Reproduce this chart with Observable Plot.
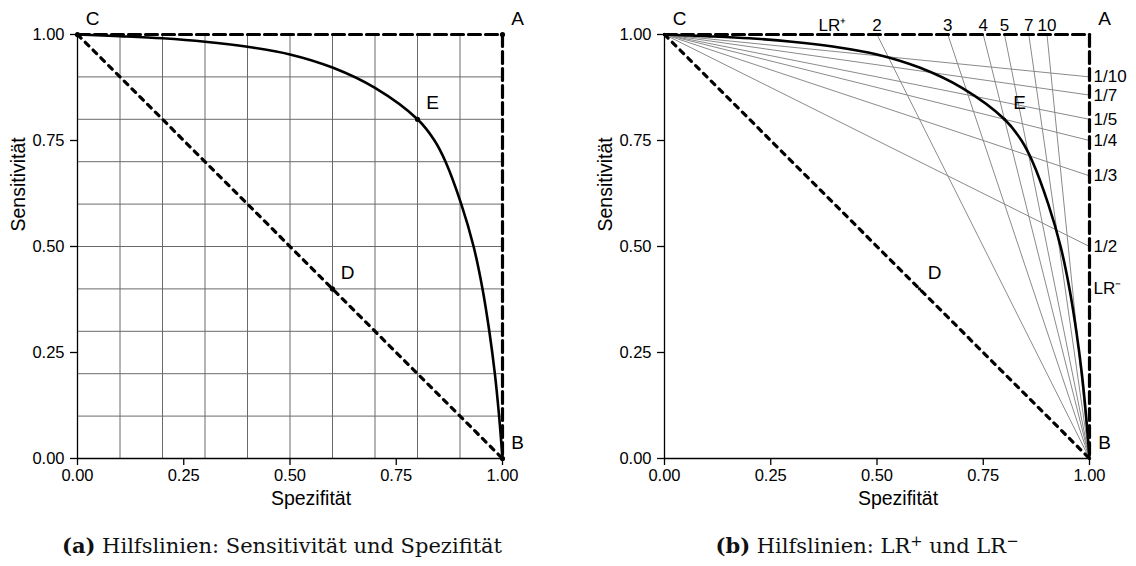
<!DOCTYPE html>
<html>
<head>
<meta charset="utf-8">
<script src="https://cdn.jsdelivr.net/npm/d3@7"></script>
<script src="https://cdn.jsdelivr.net/npm/@observablehq/plot@0.6"></script>
<style>
  html, body { margin: 0; padding: 0; background: #fff; }
  #page { position: relative; width: 1136px; height: 566px; overflow: hidden; background: #fff; }
  .panel { position: absolute; top: 0; }
  .cap { position: absolute; top: 534px; font-family: "DejaVu Serif", "Liberation Serif", serif; font-size: 21px; line-height: 24px; text-align: center; color: #111; white-space: nowrap; }
  .cap sup { font-size: 0.7em; line-height: 0; vertical-align: 0.45em; }
</style>
</head>
<body>
<div id="page">
  <div id="pa" class="panel" style="left:0px"></div>
  <div id="pb" class="panel" style="left:568px"></div>
  <div class="cap" style="left:0px; width:564px;"><b>(a)</b> Hilfslinien: Sensitivität und Spezifität</div>
  <div class="cap" style="left:567px; width:600px;"><b>(b)</b> Hilfslinien: LR<sup>+</sup> und LR<sup>−</sup></div>
</div>
<script>
// ---- data ----
const axisTicks = [0, 0.25, 0.5, 0.75, 1];
const gridValues = [0.1, 0.2, 0.3, 0.4, 0.5, 0.6, 0.7, 0.8, 0.9];

// ROC-like curve (Spezifität, Sensitivität)
const curveSpec = [0, 0.1, 0.2, 0.3, 0.4, 0.5, 0.6, 0.7, 0.8, 0.84, 0.866, 0.903, 0.932, 0.953, 0.969, 0.982, 0.992, 1];
const curveSens = [1, 0.996, 0.991, 0.983, 0.971, 0.953, 0.922, 0.874, 0.8, 0.75, 0.7, 0.6, 0.5, 0.4, 0.3, 0.2, 0.1, 0];

// labelled points
const pointLabels = ["A", "B", "C", "D", "E"];
const pointSpec = [1, 1, 0, 0.6, 0.8];
const pointSens = [1, 0, 1, 0.4, 0.8];

// dashed border C -> A -> B and dotted diagonal C -> B
const borderSpec = [0, 1, 1];
const borderSens = [1, 1, 0];
const diagSpec = [0, 1];
const diagSens = [1, 0];

// likelihood-ratio guide lines
const lrPlusValues = [2, 3, 4, 5, 7, 10];
const lrPlusLabels = ["2", "3", "4", "5", "7", "10"];
const lrMinusValues = [1/10, 1/7, 1/5, 1/4, 1/3, 1/2];
const lrMinusLabels = ["1/10", "1/7", "1/5", "1/4", "1/3", "1/2"];
const lrPlusTitle = "LR⁺";
const lrPlusTitleSpec = 0.395;
const lrMinusTitle = "LR⁻";
const lrMinusTitleSens = 0.4;

// ---- build tables ----
const curve = curveSpec.map((x, i) => ({x, y: curveSens[i]}));
const points = pointLabels.map((t, i) => ({t, x: pointSpec[i], y: pointSens[i]}));
const border = borderSpec.map((x, i) => ({x, y: borderSens[i]}));
const diag = diagSpec.map((x, i) => ({x, y: diagSens[i]}));
// LR+ lines pass through B (1,0): sens = LR+ * (1 - spec)
const lrPlus = lrPlusValues.map((v, i) => ({x1: 1, y1: 0, x2: 1 - 1 / v, y2: 1, t: lrPlusLabels[i]}));
// LR- lines pass through C (0,1): 1 - sens = LR- * spec
const lrMinus = lrMinusValues.map((v, i) => ({x1: 0, y1: 1, x2: 1, y2: 1 - v, t: lrMinusLabels[i]}));

const FONT = "'Liberation Sans', Arial, Helvetica, sans-serif";

function panel({grid, lr, marginLeft, marginRight, dotR}) {
  const marks = [];
  if (grid) {
    marks.push(Plot.ruleX(gridValues, {stroke: "#6a6a6a", strokeWidth: 1}));
    marks.push(Plot.ruleY(gridValues, {stroke: "#6a6a6a", strokeWidth: 1}));
  }
  marks.push(Plot.ruleX([0], {stroke: "#000", strokeWidth: 1.3}));
  marks.push(Plot.ruleY([0], {stroke: "#000", strokeWidth: 1.3}));
  marks.push(Plot.axisX({ticks: axisTicks, tickFormat: d3.format(".2f"), tickSize: 7, tickPadding: 4, label: null, fontSize: 16.5, fontFamily: FONT, stroke: "#000", strokeWidth: 1.3}));
  marks.push(Plot.axisY({ticks: axisTicks, tickFormat: d3.format(".2f"), tickSize: 7, tickPadding: 6, label: null, fontSize: 16.5, fontFamily: FONT, stroke: "#000", strokeWidth: 1.3}));
  if (lr) {
    marks.push(Plot.link(lrPlus, {x1: "x1", y1: "y1", x2: "x2", y2: "y2", stroke: "#8a8a8a", strokeWidth: 1}));
    marks.push(Plot.link(lrMinus, {x1: "x1", y1: "y1", x2: "x2", y2: "y2", stroke: "#8a8a8a", strokeWidth: 1}));
    marks.push(Plot.text(lrPlus, {x: "x2", y: "y2", text: "t", lineAnchor: "bottom", dy: -4, fontSize: 17, fontFamily: FONT}));
    marks.push(Plot.text(lrMinus, {x: "x2", y: "y2", text: "t", textAnchor: "start", dx: 4, fontSize: 17, fontFamily: FONT}));
    marks.push(Plot.text([lrPlusTitle], {x: () => lrPlusTitleSpec, y: () => 1, text: d => d, lineAnchor: "bottom", dy: -4, fontSize: 17, fontFamily: FONT}));
    marks.push(Plot.text([lrMinusTitle], {x: () => 1, y: () => lrMinusTitleSens, text: d => d, textAnchor: "start", dx: 4, fontSize: 17, fontFamily: FONT}));
  }
  marks.push(Plot.line(diag, {x: "x", y: "y", stroke: "#000", strokeWidth: 3.2, strokeDasharray: "5,6"}));
  marks.push(Plot.line(curve, {x: "x", y: "y", curve: "catmull-rom", stroke: "#000", strokeWidth: 2.6}));
  marks.push(Plot.line(border, {x: "x", y: "y", stroke: "#000", strokeWidth: 3.2, strokeDasharray: "12,5"}));
  marks.push(Plot.dot(points, {x: "x", y: "y", r: dotR, fill: "#000"}));
  marks.push(Plot.text(points, {x: "x", y: "y", text: "t", dx: 15, dy: -16, fontSize: 19, fontFamily: FONT}));
  marks.push(Plot.text(["Spezifität"], {frameAnchor: "bottom", lineAnchor: "top", dx: 21, dy: 33, fontSize: 19.5, fontFamily: FONT}));
  marks.push(Plot.text(["Sensitivität"], {frameAnchor: "left", rotate: -90, dx: -59, dy: -15, fontSize: 19.5, fontFamily: FONT}));
  return Plot.plot({
    width: 568, height: 510,
    marginLeft, marginRight, marginTop: 34, marginBottom: 52,
    x: {domain: [0, 1]},
    y: {domain: [0, 1]},
    style: {fontFamily: FONT, fontSize: "16px", color: "#000", background: "transparent", overflow: "visible"},
    marks
  });
}

document.getElementById("pa").append(panel({grid: true, lr: false, marginLeft: 77, marginRight: 66, dotR: 2.6}));
document.getElementById("pb").append(panel({grid: false, lr: true, marginLeft: 96, marginRight: 47, dotR: 1.6}));
</script>
</body>
</html>
